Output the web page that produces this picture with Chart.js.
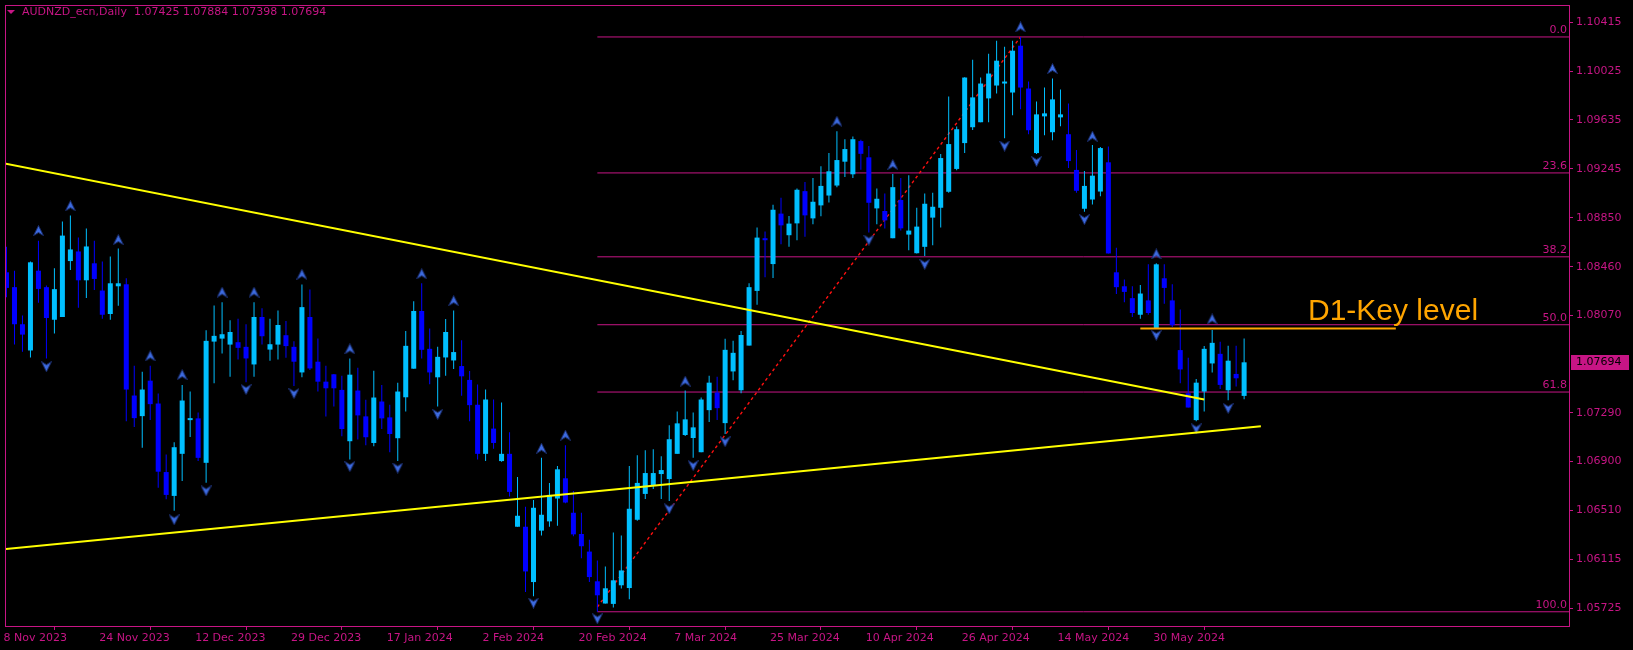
<!DOCTYPE html>
<html>
<head>
<meta charset="utf-8">
<title>AUDNZD_ecn, Daily</title>
<script src="https://cdn.jsdelivr.net/npm/chart.js@4.4.1/dist/chart.umd.min.js"></script>
<style>
  html, body { margin: 0; padding: 0; background: #000; }
  #wrap { width: 1633px; height: 650px; }
</style>
</head>
<body>
<div id="wrap"><canvas id="chartAudnzd" width="1633" height="650"></canvas></div>
<script>
// daily candles, 8 Nov 2023 .. mid June 2024 (bar index = position)
const symbolTitle = "AUDNZD_ecn,Daily";

const opens = [
  1.08415, 1.08296, 1.07999, 1.07789, 1.08428, 1.08296, 1.08035, 1.08057, 1.08505, 1.08582,
  1.08351, 1.08487, 1.08269, 1.08081, 1.08303, 1.08319, 1.07428, 1.07263, 1.07547, 1.07364,
  1.06815, 1.06624, 1.06961, 1.07231, 1.07245, 1.06889, 1.07860, 1.07884, 1.07836, 1.07855,
  1.07818, 1.07677, 1.08057, 1.07796, 1.07836, 1.07911, 1.07818, 1.07613, 1.08057, 1.07699,
  1.07539, 1.07598, 1.07473, 1.07062, 1.07468, 1.07261, 1.07048, 1.07380, 1.07253, 1.07086,
  1.07414, 1.07643, 1.08105, 1.07802, 1.07574, 1.07733, 1.07709, 1.07664, 1.07553, 1.07354,
  1.06961, 1.07163, 1.06903, 1.06961, 1.06377, 1.06377, 1.05934, 1.06346, 1.06420, 1.06603,
  1.06765, 1.06489, 1.06319, 1.06178, 1.05940, 1.05762, 1.05759, 1.05908, 1.05886, 1.06433,
  1.06640, 1.06704, 1.06799, 1.06759, 1.06961, 1.07112, 1.07088, 1.06974, 1.07311, 1.07452,
  1.07207, 1.07621, 1.07470, 1.07828, 1.08266, 1.08688, 1.08481, 1.08885, 1.08712, 1.08807,
  1.09065, 1.08847, 1.08951, 1.09030, 1.09110, 1.09301, 1.09200, 1.09466, 1.09336, 1.08927,
  1.08906, 1.08688, 1.08994, 1.08717, 1.08568, 1.08619, 1.08853, 1.08932, 1.09060, 1.09243,
  1.09450, 1.09577, 1.09617, 1.09808, 1.09911, 1.09927, 1.09855, 1.10230, 1.09887, 1.09370,
  1.09664, 1.09537, 1.09656, 1.09521, 1.09235, 1.08924, 1.08998, 1.09062, 1.09296, 1.08415,
  1.08303, 1.08208, 1.08075, 1.08190, 1.07969, 1.08367, 1.08190, 1.07792, 1.07446, 1.07231,
  1.07460, 1.07685, 1.07762, 1.07470, 1.07601, 1.07425
];
const highs = [
  1.08619, 1.08428, 1.08070, 1.08502, 1.08667, 1.08309, 1.08447, 1.08821, 1.08869, 1.08693,
  1.08765, 1.08667, 1.08502, 1.08542, 1.08606, 1.08367, 1.07667, 1.07619, 1.07667, 1.07444,
  1.06956, 1.07054, 1.07513, 1.07460, 1.07293, 1.07951, 1.08150, 1.08176, 1.08030, 1.08043,
  1.07999, 1.08176, 1.08128, 1.08043, 1.08110, 1.08025, 1.07863, 1.08317, 1.08277, 1.07884,
  1.07667, 1.07601, 1.07587, 1.07725, 1.07651, 1.07394, 1.07627, 1.07513, 1.07354, 1.07531,
  1.07945, 1.08184, 1.08327, 1.07964, 1.07818, 1.08041, 1.08110, 1.07871, 1.07625, 1.07516,
  1.07476, 1.07396, 1.07372, 1.07134, 1.06775, 1.06537, 1.06592, 1.06929, 1.06728, 1.06863,
  1.07030, 1.06664, 1.06489, 1.06272, 1.06107, 1.06059, 1.06330, 1.06306, 1.06863, 1.06950,
  1.06990, 1.06998, 1.06942, 1.07189, 1.07301, 1.07468, 1.07293, 1.07412, 1.07587, 1.07579,
  1.07882, 1.07866, 1.07945, 1.08327, 1.08773, 1.08741, 1.08956, 1.09012, 1.08866, 1.09086,
  1.09139, 1.09171, 1.09264, 1.09370, 1.09545, 1.09481, 1.09503, 1.09476, 1.09426, 1.09086,
  1.09046, 1.09203, 1.09171, 1.09192, 1.08932, 1.09046, 1.09052, 1.09362, 1.09824, 1.09582,
  1.09977, 1.10118, 1.09975, 1.10166, 1.10269, 1.10222, 1.10269, 1.10300, 1.09943, 1.09784,
  1.09895, 1.09967, 1.09879, 1.09768, 1.09394, 1.09227, 1.09434, 1.09418, 1.09423, 1.08611,
  1.08357, 1.08303, 1.08314, 1.08479, 1.08487, 1.08479, 1.08319, 1.08118, 1.07730, 1.07561,
  1.07824, 1.07953, 1.07858, 1.07826, 1.07826, 1.07884
];
const lows = [
  1.08216, 1.07836, 1.07778, 1.07733, 1.08171, 1.07725, 1.07924, 1.08057, 1.08433, 1.08131,
  1.08210, 1.08274, 1.08043, 1.08035, 1.08147, 1.07221, 1.07176, 1.07009, 1.07231, 1.06690,
  1.06598, 1.06505, 1.06743, 1.07096, 1.06903, 1.06730, 1.07526, 1.07765, 1.07579, 1.07717,
  1.07534, 1.07579, 1.07836, 1.07707, 1.07717, 1.07730, 1.07505, 1.07574, 1.07633, 1.07460,
  1.07261, 1.07340, 1.07102, 1.06916, 1.07075, 1.07030, 1.07022, 1.07160, 1.06974, 1.06903,
  1.07301, 1.07643, 1.07725, 1.07518, 1.07340, 1.07587, 1.07641, 1.07426, 1.07221, 1.06916,
  1.06903, 1.07001, 1.06897, 1.06619, 1.06377, 1.05855, 1.05820, 1.06306, 1.06377, 1.06385,
  1.06566, 1.06300, 1.06125, 1.05934, 1.05696, 1.05762, 1.05730, 1.05882, 1.05796, 1.06425,
  1.06600, 1.06680, 1.06600, 1.06584, 1.06961, 1.07104, 1.06929, 1.06974, 1.07215, 1.07231,
  1.07120, 1.07550, 1.07446, 1.07828, 1.08155, 1.08375, 1.08370, 1.08640, 1.08619, 1.08672,
  1.08699, 1.08799, 1.08863, 1.08974, 1.09097, 1.09179, 1.09171, 1.09237, 1.08733, 1.08799,
  1.08765, 1.08688, 1.08750, 1.08592, 1.08566, 1.08545, 1.08632, 1.08773, 1.09052, 1.09232,
  1.09370, 1.09555, 1.09617, 1.09617, 1.09848, 1.09489, 1.09672, 1.09720, 1.09521, 1.09362,
  1.09513, 1.09473, 1.09585, 1.09251, 1.09052, 1.08900, 1.08958, 1.09025, 1.08566, 1.08242,
  1.08176, 1.08057, 1.08043, 1.08075, 1.07964, 1.08163, 1.07977, 1.07526, 1.07332, 1.07221,
  1.07301, 1.07613, 1.07481, 1.07391, 1.07500, 1.07398
];
const closes = [
  1.08290, 1.07999, 1.07916, 1.08495, 1.08282, 1.08049, 1.08280, 1.08709, 1.08598, 1.08351,
  1.08622, 1.08362, 1.08075, 1.08327, 1.08327, 1.07476, 1.07247, 1.07476, 1.07359, 1.06818,
  1.06632, 1.07014, 1.07388, 1.07247, 1.06929, 1.07866, 1.07906, 1.07919, 1.07937, 1.07810,
  1.07725, 1.08057, 1.07903, 1.07839, 1.07993, 1.07824, 1.07699, 1.08136, 1.07645, 1.07539,
  1.07486, 1.07486, 1.07160, 1.07595, 1.07269, 1.07094, 1.07412, 1.07245, 1.07120, 1.07460,
  1.07826, 1.08105, 1.07794, 1.07613, 1.07738, 1.07937, 1.07776, 1.07582, 1.07351, 1.06961,
  1.07396, 1.07048, 1.06961, 1.06656, 1.06465, 1.06019, 1.06529, 1.06473, 1.06632, 1.06837,
  1.06571, 1.06316, 1.06221, 1.05974, 1.05828, 1.05884, 1.05948, 1.06027, 1.06521, 1.06728,
  1.06807, 1.06807, 1.06831, 1.07078, 1.07205, 1.07237, 1.07173, 1.07396, 1.07531, 1.07327,
  1.07794, 1.07770, 1.07913, 1.08296, 1.08693, 1.08672, 1.08916, 1.08791, 1.08805, 1.09076,
  1.08871, 1.08980, 1.09107, 1.09224, 1.09314, 1.09402, 1.09481, 1.09364, 1.08972, 1.09004,
  1.08831, 1.09097, 1.08767, 1.08749, 1.08781, 1.08964, 1.08940, 1.09330, 1.09442, 1.09561,
  1.09975, 1.09816, 1.09927, 1.10007, 1.10110, 1.09943, 1.10190, 1.09895, 1.09553, 1.09680,
  1.09688, 1.09800, 1.09680, 1.09306, 1.09068, 1.09107, 1.09189, 1.09410, 1.08566, 1.08296,
  1.08258, 1.08089, 1.08245, 1.08089, 1.08479, 1.08290, 1.07991, 1.07637, 1.07332, 1.07531,
  1.07802, 1.07850, 1.07513, 1.07707, 1.07566, 1.07694
];

// time axis labels, one every 12 bars
const dateTickBars = [0, 12, 24, 36, 48, 60, 72, 84, 96, 108, 120, 132, 144];
const dateTickLabels = ["8 Nov 2023", "24 Nov 2023", "12 Dec 2023", "29 Dec 2023", "17 Jan 2024",
  "2 Feb 2024", "20 Feb 2024", "7 Mar 2024", "25 Mar 2024", "10 Apr 2024", "26 Apr 2024",
  "14 May 2024", "30 May 2024"];
const priceTicks = [1.10415, 1.10025, 1.09635, 1.09245, 1.08850, 1.08460, 1.08070,
  1.07290, 1.06900, 1.06510, 1.06115, 1.05725];

// fractal arrows
const fractalUpBars = [4, 8, 14, 18, 22, 27, 31, 37, 43, 52, 56, 67, 70, 85, 104, 111, 127, 131, 136, 144, 151];
const fractalUpPrices = [1.08749, 1.08948, 1.08677, 1.07746, 1.07595, 1.08256, 1.08256, 1.08399, 1.07802,
  1.08403, 1.08188, 1.07006, 1.07110, 1.07543, 1.09625, 1.09278, 1.10381, 1.10047, 1.09505, 1.08562, 1.08041];
const fractalDownBars = [5, 21, 25, 30, 36, 43, 49, 54, 66, 74, 83, 86, 90, 108, 115, 125, 129, 135, 144, 149, 153];
const fractalDownPrices = [1.07659, 1.06433, 1.06664, 1.07476, 1.07444, 1.06859, 1.06847, 1.07277, 1.05765,
  1.05640, 1.06521, 1.06867, 1.07058, 1.08673, 1.08479, 1.09426, 1.09302, 1.08837, 1.07910, 1.07161, 1.07325];

// fibonacci retracement
const fibNames = ["0.0", "23.6", "38.2", "50.0", "61.8", "100.0"];
const fibPrices = [1.10300, 1.09211, 1.08539, 1.07995, 1.07456, 1.05696];
const fibStartBar = 74;
const fibTrendBars = [74, 127];
const fibTrendPrices = [1.05734, 1.10300];

// hand drawn lines
const upperTrendBars = [-0.45, 150];
const upperTrendPrices = [1.09289, 1.07397];
const lowerTrendBars = [-0.45, 157.1];
const lowerTrendPrices = [1.06197, 1.07181];
const keyLevelBars = [142, 174];
const keyLevelPrice = 1.07964;
const keyLabel = "D1-Key level";
const keyLabelBar = 163;
const keyLabelPrice = 1.08097;

const MAGENTA = "#C71585";
const BULL = "#00BFFF";
const BEAR = "#0000FF";

function arrowImage(up) {
  const c = document.createElement("canvas");
  c.width = 11; c.height = 11;
  const g = c.getContext("2d");
  if (!up) { g.translate(0, 11); g.scale(1, -1); }
  g.beginPath();
  g.moveTo(5.5, 0.5); g.lineTo(10.5, 10.5); g.lineTo(5.5, 7.5); g.lineTo(0.5, 10.5);
  g.closePath();
  g.fillStyle = "#3d6be0"; g.fill();
  g.strokeStyle = "#1b2d6b"; g.lineWidth = 1; g.stroke();
  return c;
}

const candleColors = closes.map((c, i) => c >= opens[i] ? BULL : BEAR);
const lastBar = closes.length - 1;

const mtPlugin = {
  id: "mtDecor",
  beforeDraw(chart) {
    const g = chart.ctx;
    g.save();
    g.fillStyle = "#000";
    g.fillRect(0, 0, chart.width, chart.height);
    g.restore();
  },
  afterDraw(chart) {
    const g = chart.ctx;
    const a = chart.chartArea;
    const ys = chart.scales.y, xs = chart.scales.x;
    g.save();
    // frame
    g.strokeStyle = MAGENTA; g.lineWidth = 1;
    g.strokeRect(a.left - 0.5, a.top - 0.5, a.right - a.left + 1, a.bottom - a.top + 1);

    // fib level names
    g.font = "11px 'DejaVu Sans'";
    g.fillStyle = MAGENTA; g.textAlign = "right"; g.textBaseline = "bottom";
    fibPrices.forEach((p, i) => {
      g.fillText(fibNames[i], a.right - 2, ys.getPixelForValue(p) - 1);
    });

    // key level text
    g.font = "30px 'Liberation Sans'";
    g.fillStyle = "#FFA500"; g.textAlign = "left"; g.textBaseline = "middle";
    g.fillText(keyLabel, xs.getPixelForValue(keyLabelBar), ys.getPixelForValue(keyLabelPrice));

    // header
    const hdr = symbolTitle + "  " + [opens[lastBar], highs[lastBar], lows[lastBar], closes[lastBar]]
      .map(v => v.toFixed(5)).join(" ");
    g.fillStyle = MAGENTA;
    g.beginPath(); g.moveTo(7, 10); g.lineTo(15, 10); g.lineTo(11, 14); g.closePath(); g.fill();
    g.font = "11px 'DejaVu Sans'";
    g.textAlign = "left"; g.textBaseline = "middle";
    g.fillText(hdr, 22, 12);

    // current price tag
    const cy = Math.round(ys.getPixelForValue(closes[lastBar]));
    g.fillStyle = MAGENTA;
    g.fillRect(a.right + 2, cy - 7, 58, 15);
    g.fillStyle = "#000";
    g.fillText(closes[lastBar].toFixed(5), a.right + 7, cy + 0.5);
    g.restore();
  }
};

const pts = (bars, prices) => bars.map((b, i) => ({ x: b, y: prices[i] }));

new Chart(document.getElementById("chartAudnzd"), {
  type: "bar",
  data: {
    datasets: [
      {
        label: "wicks",
        data: highs.map((h, i) => ({ x: i, y: [lows[i], h] })),
        backgroundColor: candleColors,
        barThickness: 1, grouped: false, borderWidth: 0, inflateAmount: 0,
        order: 3
      },
      {
        label: "bodies",
        data: opens.map((o, i) => ({ x: i, y: [Math.min(o, closes[i]), Math.max(o, closes[i])] })),
        backgroundColor: candleColors,
        barThickness: 5, grouped: false, borderWidth: 0, inflateAmount: 0, minBarLength: 1,
        order: 2
      },
      ...fibPrices.map((p, i) => ({
        type: "line", label: "fib " + fibNames[i],
        data: [{ x: fibStartBar, y: p }, { x: 200, y: p }],
        borderColor: MAGENTA, borderWidth: 1, pointRadius: 0, order: 5
      })),
      {
        type: "line", label: "fib trend",
        data: pts(fibTrendBars, fibTrendPrices),
        borderColor: "#FF1010", borderWidth: 1.4, borderDash: [3, 3], pointRadius: 0, order: 4
      },
      {
        type: "line", label: "upper trend",
        data: pts(upperTrendBars, upperTrendPrices),
        borderColor: "#FFFF00", borderWidth: 2, pointRadius: 0, order: 0
      },
      {
        type: "line", label: "lower trend",
        data: pts(lowerTrendBars, lowerTrendPrices),
        borderColor: "#FFFF00", borderWidth: 2, pointRadius: 0, order: 0
      },
      {
        type: "line", label: "key level",
        data: keyLevelBars.map(b => ({ x: b, y: keyLevelPrice })),
        borderColor: "#FFA500", borderWidth: 2, pointRadius: 0, order: 0
      },
      {
        type: "line", label: "fractal up", showLine: false,
        data: pts(fractalUpBars, fractalUpPrices),
        pointStyle: arrowImage(true), pointRadius: 5, order: 1
      },
      {
        type: "line", label: "fractal down", showLine: false,
        data: pts(fractalDownBars, fractalDownPrices),
        pointStyle: arrowImage(false), pointRadius: 5, order: 1
      }
    ]
  },
  options: {
    responsive: false,
    maintainAspectRatio: false,
    animation: false,
    devicePixelRatio: 1,
    layout: { padding: { left: 3, top: 2, right: 0, bottom: 0 } },
    plugins: { legend: { display: false }, tooltip: { enabled: false } },
    scales: {
      x: {
        type: "linear",
        min: -0.0625,
        max: 195.6875,
        offset: false,
        border: { display: false },
        grid: { display: true, drawOnChartArea: false, drawTicks: true, tickLength: 4, color: MAGENTA },
        ticks: {
          color: MAGENTA,
          font: { family: "DejaVu Sans", size: 11 },
          align: "start",
          padding: 2,
          labelOffset: -3,
          autoSkip: false,
          maxRotation: 0,
          minRotation: 0,
          callback: (v, i) => dateTickLabels[i]
        },
        afterBuildTicks: s => { s.ticks = dateTickBars.map(v => ({ value: v })); },
        afterFit: s => { s.height = 24; s.paddingLeft = 0; s.paddingRight = 0; }
      },
      y: {
        position: "right",
        min: 1.05582,
        max: 1.10548,
        border: { display: false },
        grid: { display: true, drawOnChartArea: false, drawTicks: true, tickLength: 4, color: MAGENTA },
        ticks: {
          color: MAGENTA,
          font: { family: "DejaVu Sans", size: 11 },
          padding: 3,
          callback: v => v.toFixed(5)
        },
        afterBuildTicks: s => { s.ticks = priceTicks.map(v => ({ value: v })); },
        afterFit: s => { s.width = 64; s.paddingTop = 0; s.paddingBottom = 0; }
      }
    }
  },
  plugins: [mtPlugin]
});
</script>
</body>
</html>
